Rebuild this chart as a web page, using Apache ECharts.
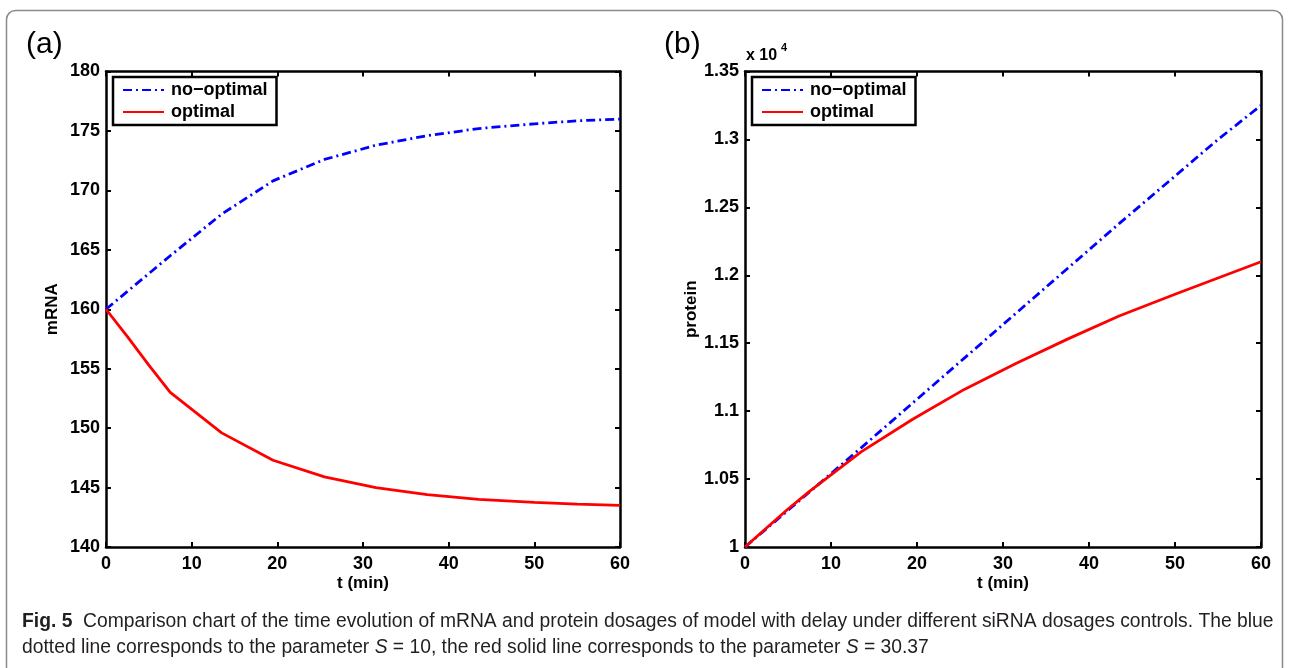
<!DOCTYPE html>
<html>
<head>
<meta charset="utf-8">
<script src="https://cdn.jsdelivr.net/npm/echarts@6/dist/echarts.min.js"></script>
<style>
  html, body { margin: 0; padding: 0; background: #fff; }
  #chart { width: 1290px; height: 668px; }
</style>
</head>
<body>
<div id="chart"></div>
<script>
// time points (min)
var tMin = [0, 2.5, 5, 7.5, 13.5, 19.5, 25.5, 31.5, 37.5, 43.5, 50, 55, 60];

// (a) mRNA
var mrnaNoOptimal = [160, 161.5, 163.0, 164.5, 168.0, 170.8, 172.6, 173.8, 174.6, 175.2, 175.6, 175.85, 176.0];
var mrnaOptimal   = [160, 157.7, 155.3, 153.0, 149.6, 147.3, 145.9, 145.0, 144.4, 144.0, 143.75, 143.6, 143.5];

// (b) protein
var proteinNoOptimal = [10000, 10135, 10270, 10405, 10730, 11060, 11390, 11720, 12050, 12380, 12730, 13000, 13250];
var proteinOptimal   = [10000, 10140, 10280, 10410, 10700, 10940, 11160, 11350, 11530, 11700, 11860, 11980, 12100];

var timeTicks = [0, 10, 20, 30, 40, 50, 60];
var mrnaTicks = [140, 145, 150, 155, 160, 165, 170, 175, 180];
var proteinTicks = [10000, 10500, 11000, 11500, 12000, 12500, 13000, 13500];

var seriesNames = ['no\u2212optimal', 'optimal'];

function pairs(xs, ys) {
  return xs.map(function (x, i) { return [x, ys[i]]; });
}

var FONT = 'Liberation Sans, Arial, sans-serif';
var labelStyle = { color: '#000', fontFamily: FONT, fontWeight: 'bold', fontSize: 18 };

function xAx(grid, pos, ticks, name) {
  return {
    gridIndex: grid,
    type: 'value',
    position: pos,
    min: ticks[0],
    max: ticks[ticks.length - 1],
    interval: ticks[1] - ticks[0],
    axisLine: { onZero: false, lineStyle: { color: '#000', width: 2.5 } },
    axisTick: { inside: true, length: 5, lineStyle: { color: '#000', width: 2 } },
    axisLabel: Object.assign({ show: pos === 'bottom', margin: 8 }, labelStyle),
    splitLine: { show: false },
    name: name,
    nameLocation: 'middle',
    nameGap: 28,
    nameMoveOverlap: false,
    nameTextStyle: Object.assign({}, labelStyle, { fontSize: 17 })
  };
}

function yAx(grid, pos, ticks, name, fmt) {
  return {
    gridIndex: grid,
    type: 'value',
    position: pos,
    min: ticks[0],
    max: ticks[ticks.length - 1],
    interval: ticks[1] - ticks[0],
    axisLine: { onZero: false, lineStyle: { color: '#000', width: 2.5 } },
    axisTick: { inside: true, length: 5, lineStyle: { color: '#000', width: 2 } },
    axisLabel: Object.assign({ show: pos === 'left', margin: 6, formatter: fmt }, labelStyle),
    splitLine: { show: false },
    name: name,
    nameLocation: 'middle',
    nameGap: 45,
    nameMoveOverlap: false,
    nameTextStyle: Object.assign({}, labelStyle, { fontSize: 17 })
  };
}

function legendAt(left) {
  return {
    left: left,
    top: 77,
    orient: 'vertical',
    data: seriesNames,
    backgroundColor: '#fff',
    borderColor: '#000',
    borderWidth: 2.5,
    borderRadius: 0,
    padding: [4, 9, 4, 9],
    itemWidth: 41,
    itemHeight: 20,
    itemGap: 4,
    selectedMode: false,
    itemStyle: { opacity: 0 },
    textStyle: { color: '#000', fontFamily: FONT, fontWeight: 'bold', fontSize: 18, padding: [0, 0, 0, 2] }
  };
}

function line(name, xi, yi, data, color, dashed) {
  return {
    name: name,
    type: 'line',
    xAxisIndex: xi,
    yAxisIndex: yi,
    data: data,
    symbol: 'none',
    smooth: false,
    animation: false,
    lineStyle: { color: color, width: 2.8, type: dashed ? [9, 4, 2, 4] : 'solid' },
    itemStyle: { color: color }
  };
}

var proteinFmt = function (v) { return String(parseFloat((v / 10000).toFixed(2))); };

var chart = echarts.init(document.getElementById('chart'), null, { renderer: 'canvas' });
chart.setOption({
  animation: false,
  backgroundColor: '#fff',
  grid: [
    { left: 106, top: 71.5, width: 514, height: 475.5 },
    { left: 745, top: 71.5, width: 516, height: 475.5 }
  ],
  xAxis: [
    xAx(0, 'bottom', timeTicks, 't (min)'),
    xAx(0, 'top', timeTicks, ''),
    xAx(1, 'bottom', timeTicks, 't (min)'),
    xAx(1, 'top', timeTicks, '')
  ],
  yAxis: [
    yAx(0, 'left', mrnaTicks, 'mRNA'),
    yAx(0, 'right', mrnaTicks, ''),
    yAx(1, 'left', proteinTicks, 'protein', proteinFmt),
    yAx(1, 'right', proteinTicks, '', proteinFmt)
  ],
  legend: [legendAt(113), legendAt(752)],
  series: [
    line(seriesNames[0], 0, 0, pairs(tMin, mrnaNoOptimal), '#0000ff', true),
    line(seriesNames[1], 0, 0, pairs(tMin, mrnaOptimal), '#ff0000', false),
    line(seriesNames[0], 2, 2, pairs(tMin, proteinNoOptimal), '#0000ff', true),
    line(seriesNames[1], 2, 2, pairs(tMin, proteinOptimal), '#ff0000', false)
  ],
  graphic: [
    // outer frame of the figure
    { type: 'rect', shape: { x: 6.5, y: 10.5, width: 1276, height: 700, r: 9 },
      style: { fill: 'none', stroke: '#8a8a8a', lineWidth: 1.5 }, silent: true },
    { type: 'text', left: 26, top: 30,
      style: { text: '(a)', fontFamily: FONT, fontSize: 30, fill: '#000' } },
    { type: 'text', left: 664, top: 30,
      style: { text: '(b)', fontFamily: FONT, fontSize: 30, fill: '#000' } },
    { type: 'text', left: 746, top: 48,
      style: { text: 'x 10', fontFamily: FONT, fontWeight: 'bold', fontSize: 16, fill: '#000' } },
    { type: 'text', left: 781, top: 42,
      style: { text: '4', fontFamily: FONT, fontWeight: 'bold', fontSize: 11, fill: '#000' } },
    { type: 'text', left: 22, top: 612,
      style: {
        text: '{b|Fig. 5}  Comparison chart of the time evolution of mRNA and protein dosages of model with delay under different siRNA dosages controls. The blue',
        fontFamily: FONT, fontSize: 19.3, fill: '#231f20',
        rich: { b: { fontFamily: FONT, fontSize: 19.3, fontWeight: 'bold', fill: '#231f20' } }
      } },
    { type: 'text', left: 22, top: 638,
      style: {
        text: 'dotted line corresponds to the parameter {i|S} = 10, the red solid line corresponds to the parameter {i|S} = 30.37',
        fontFamily: FONT, fontSize: 19.3, fill: '#231f20',
        rich: { i: { fontFamily: FONT, fontSize: 19.3, fontStyle: 'italic', fill: '#231f20' } }
      } }
  ]
});
</script>
</body>
</html>
